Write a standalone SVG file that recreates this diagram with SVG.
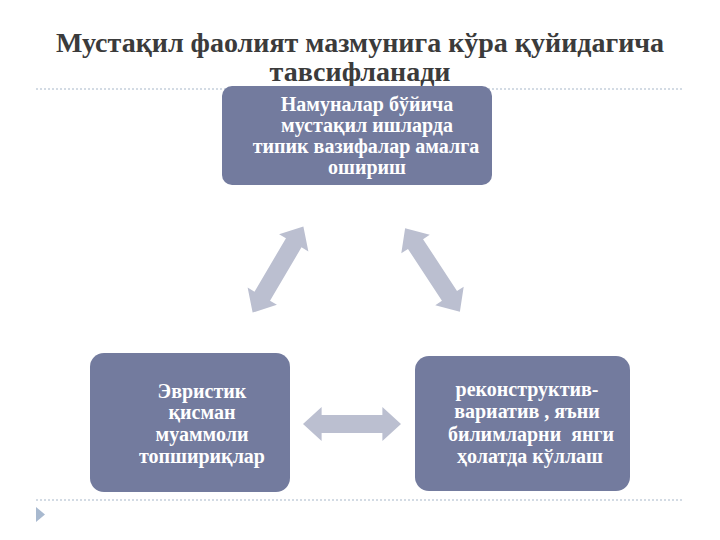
<svg xmlns="http://www.w3.org/2000/svg" xmlns:xlink="http://www.w3.org/1999/xlink" width="720" height="540" viewBox="0 0 720 540">
<style>
.title{font-family:"Liberation Serif","DejaVu Serif",serif;font-weight:bold;font-size:28px;fill:#3b3b3b;text-anchor:middle}
.box{fill:#737b9e}
.lbl{font-family:"Liberation Serif","DejaVu Serif",serif;font-weight:bold;font-size:20px;fill:#ffffff;text-anchor:middle}
.dots{stroke:#c5cfdc;stroke-width:1.5;stroke-dasharray:2 2}
.arr{fill:#bbbfd0}
</style>
<defs>
<path id="darrow" d="M-50,0 L-31,-17 L-31,-9 L31,-9 L31,-17 L50,0 L31,17 L31,9 L-31,9 L-31,17 Z"/>
</defs>
<rect width="720" height="540" fill="#ffffff"/>
<g id="title">
<text class="title" x="360" y="52">Мустақил фаолият мазмунига кўра қуйидагича</text>
<text class="title" x="360" y="81">тавсифланади</text>
</g>
<line class="dots" x1="36" y1="89" x2="684" y2="89"/>
<line class="dots" x1="36" y1="500" x2="684" y2="500"/>
<polygon points="36,507 45,514.5 36,522" fill="#a8b9cf"/>
<g id="connectors" class="arr">
<use xlink:href="#darrow" transform="translate(278,269.5) rotate(-59.5)"/>
<use xlink:href="#darrow" transform="translate(432.5,270) rotate(56.8)"/>
<use xlink:href="#darrow" transform="translate(352,424) scale(0.98,1)"/>
</g>
<g id="node-top">
<rect class="box" x="222" y="86" width="270" height="99" rx="10"/>
<text class="lbl" x="367" y="111">Намуналар бўйича</text>
<text class="lbl" x="367" y="132">мустақил ишларда</text>
<text class="lbl" x="366" y="153">типик вазифалар амалга</text>
<text class="lbl" x="367" y="174">ошириш</text>
</g>
<g id="node-left">
<rect class="box" x="90" y="353" width="200" height="139" rx="14"/>
<text class="lbl" x="202" y="398">Эвристик</text>
<text class="lbl" x="202" y="419">қисман</text>
<text class="lbl" x="202" y="441">муаммоли</text>
<text class="lbl" x="202" y="463">топшириқлар</text>
</g>
<g id="node-right">
<rect class="box" x="415" y="356" width="215" height="135" rx="14"/>
<text class="lbl" x="527" y="396">реконструктив-</text>
<text class="lbl" x="527" y="418">вариатив , яъни</text>
<text class="lbl" x="531" y="441" xml:space="preserve">билимларни  янги</text>
<text class="lbl" x="530" y="463">ҳолатда кўллаш</text>
</g>
</svg>
